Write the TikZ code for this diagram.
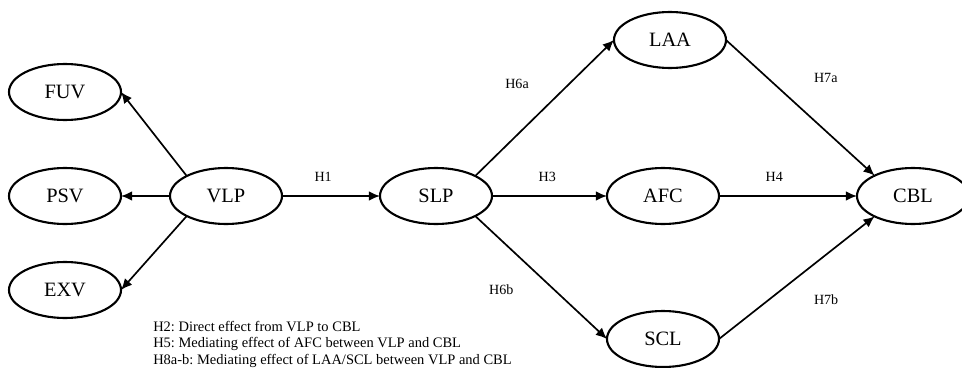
\documentclass[tikz,border=0pt]{standalone}
\usepackage{fontspec}
\setmainfont{Liberation Serif}
\usepackage{tikz}
\usetikzlibrary{positioning}
\usetikzlibrary{shapes.geometric}
\usetikzlibrary{arrows.meta}
\frenchspacing

\begin{document}
\begin{tikzpicture}
% Styles:
\tikzset{construct/.style={draw, ellipse, line width=1.5pt, minimum width=2.8cm, minimum height=1.4cm, inner sep=0pt, outer sep=0pt, font=\fontsize{14.5}{16}\selectfont}}
\tikzset{link/.style={-{Latex[length=8pt, width=7pt]}, line width=1.2pt}}
\tikzset{hyp/.style={inner sep=0pt, font=\fontsize{10}{12}\selectfont}}

\useasboundingbox (-5.65,-4.275) rectangle (18.4,4.9);

% Main nodes:
\node[construct] (vlp) {VLP};
\node[construct] (psv) [left = 1.225cm of vlp] {PSV};
\node[construct] (fuv) [above = 1.2cm of psv] {FUV};
\node[construct] (exv) [below = 0.95cm of psv] {EXV};
\node[construct] (slp) [right = 2.45cm of vlp] {SLP};
\node[construct] (afc) [right = 2.875cm of slp] {AFC};
\node[construct] (laa) [above = 2.5cm of afc, xshift=0.175cm] {LAA};
\node[construct] (scl) [below = 2.175cm of afc] {SCL};
\node[construct] (cbl) [right = 3.45cm of afc] {CBL};

% Dimensions of VLP:
\draw[link] (vlp.153) -- (fuv.east);
\draw[link] (vlp.west) -- (psv.east);
\draw[link] (vlp.207) -- (exv.east);

% Hypotheses:
\draw[link] (vlp.east) -- node[hyp, pos=0.42, above=0.33cm] {H1} (slp.west);
\draw[link] (slp.east) -- node[hyp, pos=0.48, above=0.33cm] {H3} (afc.west);
\draw[link] (afc.east) -- node[hyp, pos=0.40, above=0.33cm] {H4} (cbl.west);
\draw[link] (slp.27)   -- node[hyp, pos=0.68, left=1.0cm]   {H6a} (laa.west);
\draw[link] (slp.333)  -- node[hyp, pos=0.60, left=1.0cm]   {H6b} (scl.west);
\draw[link] (laa.east) -- node[hyp, pos=0.28, right=1.14cm] {H7a} (cbl.152);
\draw[link] (scl.east) -- node[hyp, pos=0.32, right=1.11cm] {H7b} (cbl.208);

% Notes:
\node[hyp, anchor=north west, align=left, font=\fontsize{10.3}{11.7}\selectfont] (notes) at (-1.825,-3.125)
  {H2: Direct effect from VLP to CBL\\
   H5: Mediating effect of AFC between VLP and CBL\\
   H8a-b: Mediating effect of LAA/SCL between VLP and CBL};
\end{tikzpicture}
\end{document}
